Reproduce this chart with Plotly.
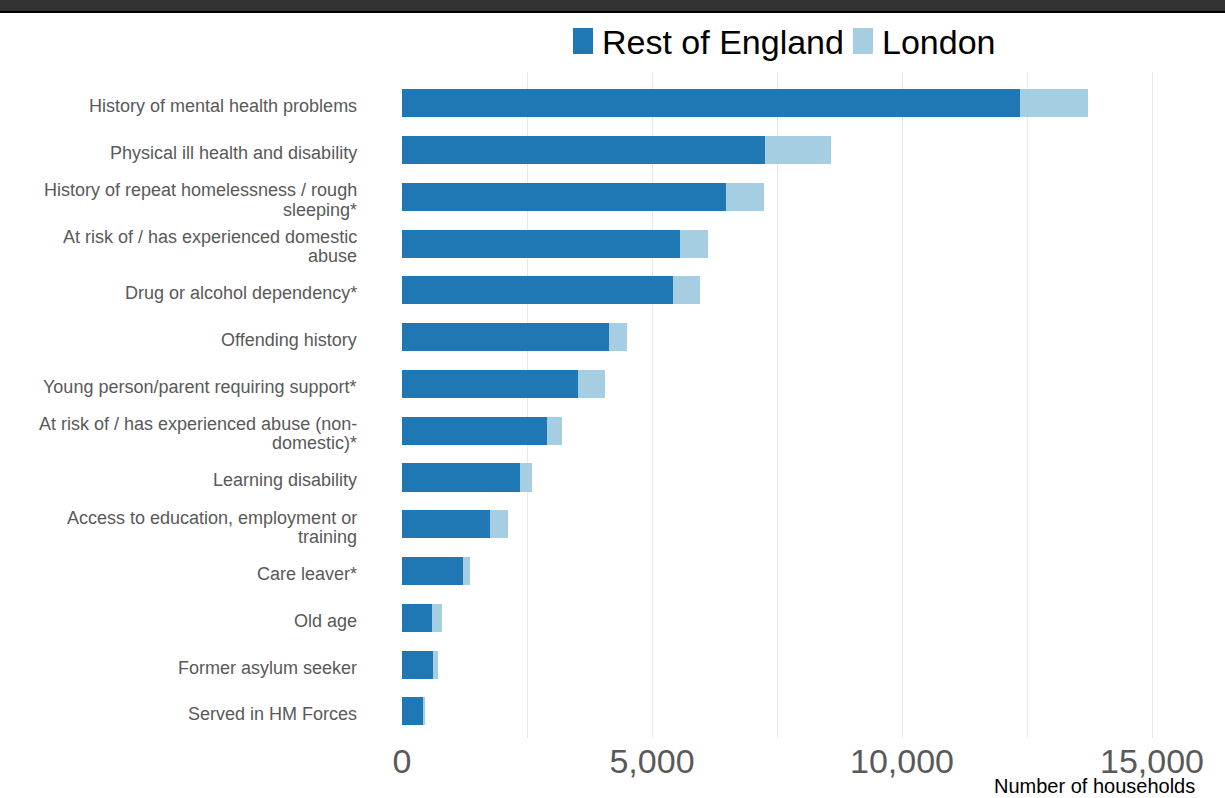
import plotly.graph_objects as go

# Support needs of households owed a duty, split by region
categories = [
    "History of mental health problems",
    "Physical ill health and disability",
    "History of repeat homelessness / rough<br>sleeping*",
    "At risk of / has experienced domestic<br>abuse",
    "Drug or alcohol dependency*",
    "Offending history",
    "Young person/parent requiring support*",
    "At risk of / has experienced abuse (non-<br>domestic)*",
    "Learning disability",
    "Access to education, employment or<br>training",
    "Care leaver*",
    "Old age",
    "Former asylum seeker",
    "Served in HM Forces",
]
rest_of_england = [12350, 7260, 6470, 5550, 5410, 4130, 3510, 2890, 2350, 1750, 1210, 590, 620, 430]
london = [1370, 1310, 760, 560, 550, 370, 540, 300, 250, 370, 140, 200, 90, 15]

series_names = ["Rest of England", "London"]
series_colors = ["#1f78b4", "#a6cee3"]
x_tick_values = [0, 5000, 10000, 15000]
x_tick_labels = ["0", "5,000", "10,000", "15,000"]
x_title = "Number of households"

W, H = 1225, 798
L, R, T, B = 402, 1167, 72, 738  # plot-area edges in pixels

FONT = "Arial, 'Liberation Sans', sans-serif"
GREY = "#595959"


def px_x(px):
    return (px - L) / (R - L)


def px_y(py):
    return (B - py) / (B - T)


fig = go.Figure()
for name, vals, col in zip(series_names, [rest_of_england, london], series_colors):
    fig.add_trace(go.Bar(
        y=categories, x=vals, name=name, orientation="h",
        marker=dict(color=col, line=dict(width=0)), width=0.6,
        showlegend=False,
    ))

annotations = []
# category labels, one annotation per line with tight line spacing
line_gap = 19.4
for cat in categories:
    lines = cat.split("<br>")
    n = len(lines)
    for i, ln in enumerate(lines):
        offset = (i - (n - 1) / 2) * line_gap
        annotations.append(dict(
            x=px_x(359), xref="paper", y=cat, yref="y",
            text=ln, showarrow=False, xanchor="right", yanchor="middle",
            yshift=-offset - 3,
            font=dict(family=FONT, size=18, color=GREY),
        ))

# axis title at bottom right
annotations.append(dict(
    x=px_x(1197), xref="paper", y=px_y(786), yref="paper",
    text=x_title, showarrow=False, xanchor="right", yanchor="middle",
    font=dict(family=FONT, size=20, color="#000000"),
))

# legend: swatches and labels
shapes = []
legend_items = [(573, 593, 600), (853, 873, 880)]
for (sx0, sx1, tx), name, col in zip(legend_items, series_names, series_colors):
    shapes.append(dict(
        type="rect", xref="paper", yref="paper",
        x0=px_x(sx0), x1=px_x(sx1), y0=px_y(54), y1=px_y(28),
        fillcolor=col, line=dict(width=0),
    ))
    annotations.append(dict(
        x=px_x(tx), xref="paper", y=px_y(42), yref="paper",
        text=name, showarrow=False, xanchor="left", yanchor="middle",
        font=dict(family=FONT, size=34, color="#000000"),
    ))

# dark band across the top edge
shapes.append(dict(type="rect", xref="paper", yref="paper",
                   x0=px_x(0), x1=px_x(W), y0=px_y(0), y1=px_y(11),
                   fillcolor="#333333", line=dict(width=0), layer="above"))
shapes.append(dict(type="rect", xref="paper", yref="paper",
                   x0=px_x(0), x1=px_x(W), y0=px_y(11), y1=px_y(13),
                   fillcolor="#000000", line=dict(width=0), layer="above"))

fig.update_layout(
    barmode="stack",
    width=W, height=H,
    margin=dict(l=L, r=W - R, t=T, b=H - B, pad=0),
    paper_bgcolor="white", plot_bgcolor="white",
    annotations=annotations, shapes=shapes,
    showlegend=False,
    font=dict(family=FONT),
)
fig.update_xaxes(
    range=[0, 15300],
    tickvals=x_tick_values, ticktext=x_tick_labels,
    showgrid=True, gridcolor="#e8e8e8", gridwidth=1,
    minor=dict(dtick=2500, tick0=0, showgrid=True, gridcolor="#e8e8e8", gridwidth=1),
    zeroline=False, showline=False, ticks="",
    tickfont=dict(family=FONT, size=34, color=GREY),
)
fig.update_yaxes(
    categoryorder="array", categoryarray=categories,
    range=[13.57, -0.67],
    showticklabels=False, showgrid=False, zeroline=False, showline=False, ticks="",
)

fig.write_html("out.html")
